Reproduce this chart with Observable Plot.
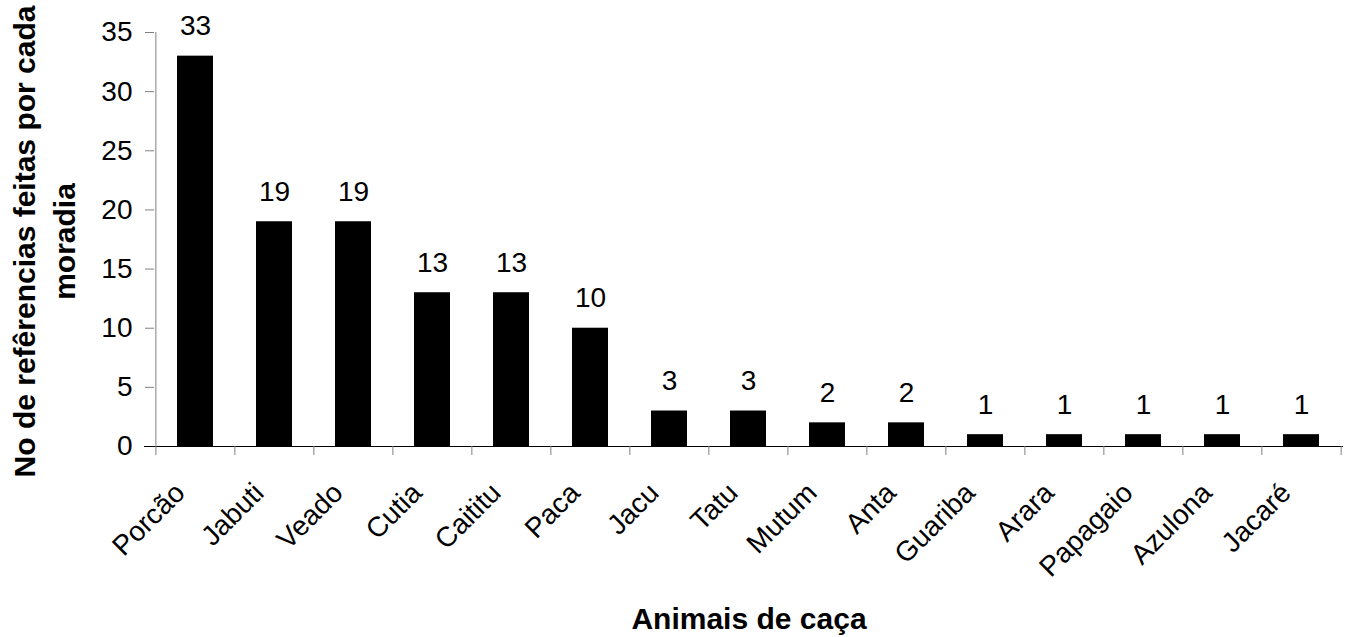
<!DOCTYPE html>
<html>
<head>
<meta charset="utf-8">
<script src="https://cdn.jsdelivr.net/npm/d3@7"></script>
<script src="https://cdn.jsdelivr.net/npm/@observablehq/plot@0.6"></script>
<style>
  html, body { margin: 0; padding: 0; background: #fff; }
  #chart svg { display: block; }
</style>
</head>
<body>
<div id="chart"></div>
<script>
const categories = ["Porcão", "Jabuti", "Veado", "Cutia", "Caititu", "Paca", "Jacu", "Tatu", "Mutum", "Anta", "Guariba", "Arara", "Papagaio", "Azulona", "Jacaré"];
const values = [33, 19, 19, 13, 13, 10, 3, 3, 2, 2, 1, 1, 1, 1, 1];
const yTicks = [0, 5, 10, 15, 20, 25, 30, 35];
const xTitle = "Animais de caça";
const yTitle = "No de refêrencias feitas por cada\nmoradia";

const data = categories.map((c, i) => ({animal: c, n: values[i]}));

const W = 1353, H = 637;
const mL = 154, mR = 10, mT = 32, mB = 191;
const step = (W - mL - mR) / categories.length;
const font = "Liberation Sans, Arial, sans-serif";

const chart = Plot.plot({
  width: W,
  height: H,
  marginLeft: mL,
  marginRight: mR,
  marginTop: mT,
  marginBottom: mB,
  style: {fontFamily: font, fontSize: "28px", color: "black", background: "white"},
  x: {type: "band", domain: categories, paddingInner: 0.542, paddingOuter: 0.271, axis: null},
  y: {domain: [0, 35], axis: null},
  marks: [
    Plot.barY(data, {x: "animal", y: "n", fill: "black"}),
    // y axis line
    Plot.ruleX([categories[0]], {x: d => d, dx: -step / 2, y1: 0, y2: 35, stroke: "#808080", strokeWidth: 1}),
    Plot.axisY({ticks: yTicks, tickSize: 9, tickPadding: 13, stroke: "#808080", fontSize: 28, label: null}),
    // x axis line
    Plot.ruleY([0], {stroke: "black", strokeWidth: 1, insetLeft: -10}),
    // ticks at band boundaries
    Plot.ruleX(categories, {x: d => d, dx: -step / 2, y1: 0, y2: 0, insetBottom: -9, stroke: "#808080"}),
    Plot.ruleX([categories[categories.length - 1]], {x: d => d, dx: step / 2, y1: 0, y2: 0, insetBottom: -9, stroke: "#808080"}),
    // rotated category labels
    Plot.text(categories, {x: d => d, frameAnchor: "bottom", dx: -9, dy: 48, rotate: -45, textAnchor: "end", lineAnchor: "bottom", fontSize: 28, fill: "black"}),
    // value labels
    Plot.text(data, {x: "animal", y: "n", text: d => String(d.n), dy: -21, lineAnchor: "bottom", fontSize: 28, fill: "black"}),
    // x title
    Plot.text([xTitle], {frameAnchor: "bottom", dy: 182, textAnchor: "middle", lineAnchor: "bottom", fontSize: 30, fontWeight: "bold", fill: "black"}),
    // y title
    Plot.text([yTitle], {frameAnchor: "left", dx: -112, dy: 2, rotate: -90, textAnchor: "middle", lineAnchor: "middle", lineHeight: 1.32, fontSize: 30, fontWeight: "bold", fill: "black"})
  ]
});

document.getElementById("chart").appendChild(chart);
</script>
</body>
</html>
